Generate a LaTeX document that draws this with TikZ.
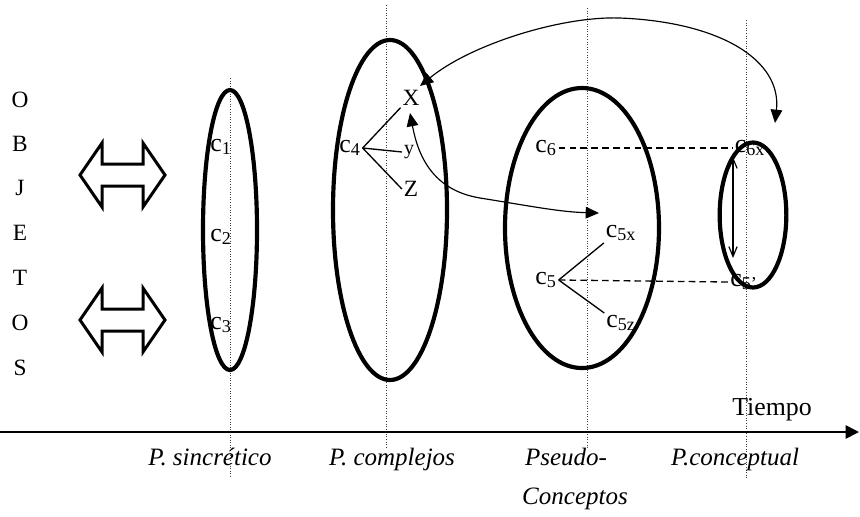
\documentclass[tikz,border=0pt]{standalone}
\usepackage{fontspec}
\setmainfont{Liberation Serif}
\usetikzlibrary{shapes.geometric,arrows.meta}
\begin{document}
\begin{tikzpicture}[x=0.6pt,y=-0.6pt,
  stage/.style={ellipse,draw,line width=2.5pt,inner sep=0pt},
  guide/.style={densely dotted,line width=0.55pt,black!75},
  lbl/.style={font=\fontsize{15}{17}\selectfont\itshape,inner sep=0pt,anchor=base},
  letter/.style={font=\fontsize{14}{16}\selectfont,inner sep=0pt},
  cl/.style={font=\fontsize{15.5}{17}\selectfont,inner sep=1pt},
  bigarrow/.style={draw,line width=1.8pt,line join=miter},
  link/.style={line width=0.7pt,{Triangle[length=8pt,width=7pt]}-{Triangle[length=8pt,width=7pt]}},
  dashlink/.style={line width=0.8pt,dash pattern=on 4pt off 2.5pt},
  thinlink/.style={line width=0.8pt},
]
\useasboundingbox (0,0) rectangle (860,516);

% guide lines
\draw[guide] (230,78) -- (230,478);
\draw[guide] (386,5) -- (386,448);
\draw[guide] (587,8) -- (587,448);
\draw[guide] (746,20) -- (746,478);

% time axis
\coordinate (ax0) at (0,432);
\coordinate (ax1) at (859,432);
\draw[line width=1pt,-{Triangle[length=8pt,width=8pt]}] (ax0) -- (ax1);
\node[font=\fontsize{15.5}{17}\selectfont] (tiempo) at (772,410) {Tiempo};

% OBJETOS
\node[letter] (o1) at (20,100) {O};
\node[letter] (b) at (20,144) {B};
\node[letter] (j) at (20,188) {J};
\node[letter] (e) at (20,233) {E};
\node[letter] (t) at (20,278) {T};
\node[letter] (o2) at (20,323) {O};
\node[letter] (s) at (20,368) {S};

% double arrows
\draw[bigarrow] (80,175) -- (102,143) -- (102,164) -- (143,164) -- (143,143) -- (165,175)
  -- (143,207) -- (143,186) -- (102,186) -- (102,207) -- cycle;
\draw[bigarrow] (80,320) -- (102,288) -- (102,309) -- (143,309) -- (143,288) -- (165,320)
  -- (143,352) -- (143,331) -- (102,331) -- (102,352) -- cycle;

% stage ellipses
\node[stage,minimum width=32.4pt,minimum height=168pt] (e1) at (230,230) {};
\node[stage,minimum width=68.4pt,minimum height=204pt] (e2) at (390,210) {};
\node[stage,minimum width=92.4pt,minimum height=168pt] (e3) at (582,228) {};
\node[stage,minimum width=40pt,minimum height=87pt] (e4) at (753,215) {};

% c labels
\node[cl] (c1) at (221,147) {c\textsubscript{1}};
\node[cl] (c2) at (221,237) {c\textsubscript{2}};
\node[cl] (c3) at (221,325) {c\textsubscript{3}};
\node[cl] (c4) at (350,148) {c\textsubscript{4}};
\node[cl,font=\fontsize{14}{16}\selectfont] (X) at (411,98) {X};
\node[cl,font=\fontsize{12}{14}\selectfont] (y) at (409,152) {y};
\node[cl,font=\fontsize{14}{16}\selectfont] (Z) at (411,189) {Z};
\node[cl] (c6) at (546,148) {c\textsubscript{6}};
\node[cl] (c5) at (546,280) {c\textsubscript{5}};
\node[cl] (c5x) at (621,233) {c\textsubscript{5x}};
\node[cl] (c5z) at (621,323) {c\textsubscript{5z}};
\node[cl] (c6x) at (750,148) {c\textsubscript{6x}};
\node[cl] (c5p) at (744,282) {c\textsubscript{5'}};

% c4 branches
\draw[thinlink] (c4.east) -- (X.south west);
\draw[thinlink] (c4.east) -- (y.west);
\draw[thinlink] (c4.east) -- (Z.west);

% c5 branches
\draw[thinlink] (c5.east) -- (c5x.south west);
\draw[thinlink] (c5.east) -- (c5z.north west);

% dashed links
\draw[dashlink] (c6.east) -- (c6x.west);
\draw[dashlink] (c5.east) -- (c5p.west);

% arrow inside conceptual stage
\coordinate (va) at (733,157);
\coordinate (vb) at (733,258);
\draw[line width=0.7pt,{Straight Barb[length=6pt,width=5pt]}-{Straight Barb[length=6pt,width=5pt]}] (va) -- (vb);

% curved links
\coordinate (k1) at (420,86);
\coordinate (k2) at (775,123);
\draw[link] (k1) .. controls (470,45) and (560,16) .. (620,18)
  .. controls (720,22) and (782,60) .. (k2);
\coordinate (m1) at (410,113);
\coordinate (m2) at (599,213);
\draw[link] (m1) .. controls (418,155) and (432,190) .. (480,198)
  .. controls (530,206) and (560,212) .. (m2);

% stage labels
\node[lbl] (l1) at (210,465) {P. sincrético};
\node[lbl] (l2) at (392,465) {P. complejos};
\node[lbl] (l3) at (566,465) {Pseudo-};
\node[lbl] (l3b) at (575,504) {Conceptos};
\node[lbl] (l4) at (735,465) {P.conceptual};
\end{tikzpicture}
\end{document}
